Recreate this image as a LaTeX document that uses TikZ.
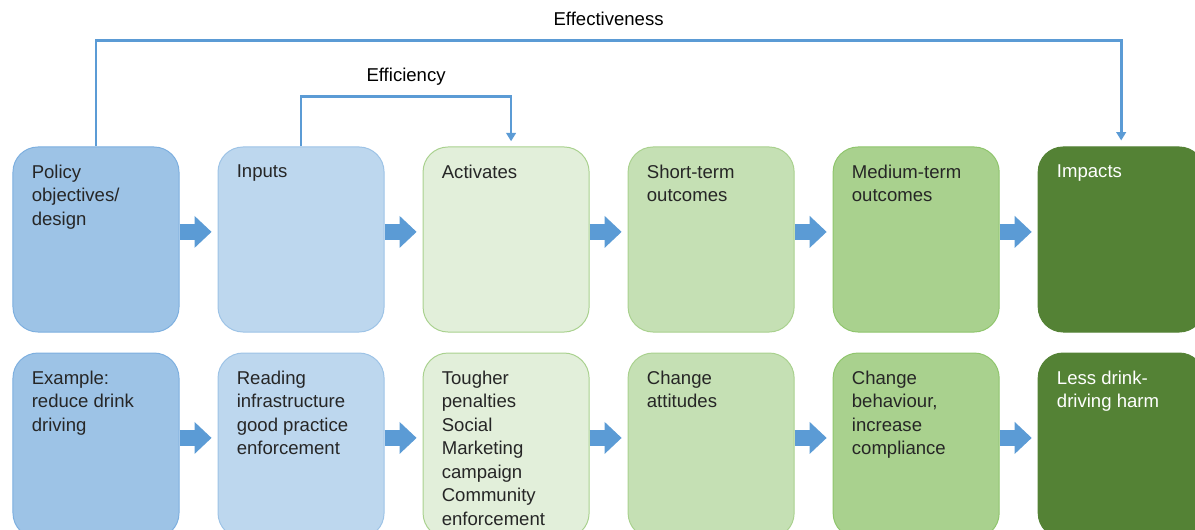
\documentclass[tikz,border=0pt]{standalone}
\usepackage{fontspec}
\setmainfont{Liberation Sans}
\usetikzlibrary{arrows.meta, positioning, calc}
\tikzset{>=stealth}
\definecolor{flowblue}{HTML}{5B9BD5}
\definecolor{textgrey}{HTML}{262626}
\definecolor{blueA}{HTML}{9DC3E6}
\definecolor{blueAline}{HTML}{7DAFDF}
\definecolor{blueB}{HTML}{BDD7EE}
\definecolor{blueBline}{HTML}{9DC3E6}
\definecolor{greenA}{HTML}{E2EFDA}
\definecolor{greenB}{HTML}{C5E0B4}
\definecolor{greenC}{HTML}{A9D18E}
\definecolor{greenline}{HTML}{8FC56C}
\definecolor{greenD}{HTML}{548235}
\tikzset{
  stage/.style={draw, rounded corners=0.625cm, minimum width=4.15cm, minimum height=4.625cm, line width=0.7pt},
  stagetext/.style={anchor=north west, align=left, inner sep=0pt, text=textgrey, font=\fontsize{13.2}{16.7}\selectfont},
  blockarrow/.style={flowblue, line width=0.4cm, shorten >=0.15cm, -{Triangle[length=0.425cm, width=0.8cm, line width=0pt]}},
  flow/.style={flowblue, line width=2pt, -{Triangle[length=0.21cm, width=0.24cm]}},
  flowlabel/.style={above=0.33cm, inner sep=0pt, text depth=0pt, text=black, font=\fontsize{13.2}{16.7}\selectfont}
}
\begin{document}
\begin{tikzpicture}[x=0.025cm, y=-0.025cm]
  \useasboundingbox (0,0) rectangle (1195,530);
  % top row
  \node[stage, fill=blueA, draw=blueAline] (objectives) at (96,239.5) {};
  \node[stage, fill=blueB, draw=blueBline, right=0.95cm of objectives] (inputs) {};
  \node[stage, fill=greenA, draw=greenC, right=0.95cm of inputs] (activities) {};
  \node[stage, fill=greenB, draw=greenC, right=0.95cm of activities] (shortterm) {};
  \node[stage, fill=greenC, draw=greenline, right=0.95cm of shortterm] (mediumterm) {};
  \node[stage, fill=greenD, draw=greenD, right=0.95cm of mediumterm] (impacts) {};
  % bottom row
  \node[stage, fill=blueA, draw=blueAline, below=0.5cm of objectives] (example) {};
  \node[stage, fill=blueB, draw=blueBline, right=0.95cm of example] (reading) {};
  \node[stage, fill=greenA, draw=greenC, right=0.95cm of reading] (tougher) {};
  \node[stage, fill=greenB, draw=greenC, right=0.95cm of tougher] (attitudes) {};
  \node[stage, fill=greenC, draw=greenline, right=0.95cm of attitudes] (behaviour) {};
  \node[stage, fill=greenD, draw=greenD, right=0.95cm of behaviour] (harm) {};

  \node[stagetext] (objectivestext) at ($(objectives.north west)+(19,18)$) {Policy\\objectives/\\design};
  \node[stagetext] (inputstext) at ($(inputs.north west)+(19,18)$) {Inputs};
  \node[stagetext] (activitiestext) at ($(activities.north west)+(19,18)$) {Activates};
  \node[stagetext] (shorttermtext) at ($(shortterm.north west)+(19,18)$) {Short-term\\outcomes};
  \node[stagetext] (mediumtermtext) at ($(mediumterm.north west)+(19,18)$) {Medium-term\\outcomes};
  \node[stagetext, text=white] (impactstext) at ($(impacts.north west)+(19,18)$) {Impacts};
  \node[stagetext] (exampletext) at ($(example.north west)+(19,18)$) {Example:\\reduce drink\\driving};
  \node[stagetext] (readingtext) at ($(reading.north west)+(19,18)$) {Reading\\infrastructure\\good practice\\enforcement};
  \node[stagetext] (toughertext) at ($(tougher.north west)+(19,18)$) {Tougher\\penalties\\Social\\Marketing\\campaign\\Community\\enforcement};
  \node[stagetext] (attitudestext) at ($(attitudes.north west)+(19,18)$) {Change\\attitudes};
  \node[stagetext] (behaviourtext) at ($(behaviour.north west)+(19,18)$) {Change\\behaviour,\\increase\\compliance};
  \node[stagetext, text=white] (harmtext) at ($(harm.north west)+(19,18)$) {Less drink-\\driving harm};

  % block arrows between stages
  \foreach \a/\b in {objectives/inputs, inputs/activities, activities/shortterm, shortterm/mediumterm, mediumterm/impacts,
                     example/reading, reading/tougher, tougher/attitudes, attitudes/behaviour, behaviour/harm}
    \draw[blockarrow] ([yshift=0.19cm]\a.east) -- ([yshift=0.19cm]\b.west);

  % efficiency and effectiveness
  \draw[flow, shorten >=0.15cm] (objectives.north) -- ++(0,-106) -| node[pos=0.25, flowlabel] (effectiveness) {Effectiveness} (impacts.north);
  \draw[flow, shorten >=0.13cm] (inputs.north) -- ++(0,-50) -| node[pos=0.25, flowlabel] (efficiency) {Efficiency} ([xshift=0.125cm]activities.north);
\end{tikzpicture}
\end{document}
